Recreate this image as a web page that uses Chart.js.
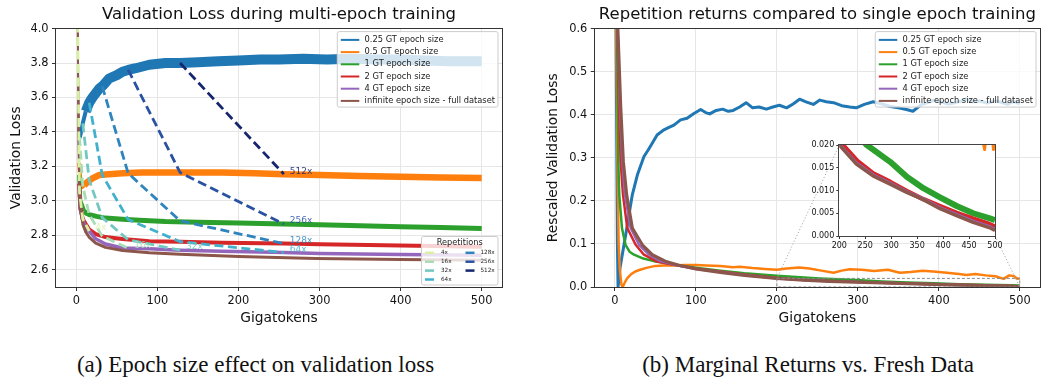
<!DOCTYPE html>
<html lang="en">
<head>
<meta charset="utf-8">
<title>Epoch size effect</title>
<script src="https://cdn.jsdelivr.net/npm/chart.js@4.4.1/dist/chart.umd.min.js"></script>
<style>
  html, body { margin: 0; padding: 0; background: #fff; }
  #page { position: relative; width: 1041px; height: 379px; overflow: hidden; }
  #page canvas { position: absolute; }
  .caption {
    position: absolute; top: 352px; transform: translateX(-50%); white-space: nowrap;
    font-family: "Liberation Serif", "Times New Roman", serif; font-size: 23px; line-height: 26px; color: #111;
  }
</style>
</head>
<body>
<div id="page">
  <canvas id="leftChart" width="520" height="329" style="left:0;top:0"></canvas>
  <canvas id="rightChart" width="530" height="329" style="left:530px;top:0"></canvas>
  <canvas id="insetChart" width="215" height="130" style="left:790px;top:128px"></canvas>
  <div class="caption" style="left:255.5px">(a) Epoch size effect on validation loss</div>
  <div class="caption" style="left:808px">(b) Marginal Returns vs. Fresh Data</div>
</div>
<script>
// ---- data ----
const xTicks = [0, 100, 200, 300, 400, 500];
const leftYTicks = [2.6, 2.8, 3.0, 3.2, 3.4, 3.6, 3.8, 4.0];
const rightYTicks = [0, 0.1, 0.2, 0.3, 0.4, 0.5, 0.6];
const insetXTicks = [200, 250, 300, 350, 400, 450, 500];
const insetYTicks = [0, 0.005, 0.01, 0.015, 0.02];

const seriesLabels = ['0.25 GT epoch size', '0.5 GT epoch size', '1 GT epoch size',
  '2 GT epoch size', '4 GT epoch size', 'infinite epoch size - full dataset'];
const seriesColors = ['#1f77b4', '#ff7f0e', '#2ca02c', '#d62728', '#9467bd', '#8c564b'];

// (a) validation loss, [gigatokens, loss]
const lossEpoch025 = [[1,5.0],[2,3.95],[2.8,3.55],[3.5,3.42],[4.3,3.37],[6,3.4],[8,3.45],[11.7,3.52],[16,3.57],[20,3.6],
  [28,3.65],[33,3.67],[40.5,3.71],[50,3.73],[57,3.75],[64,3.76],[73.5,3.77],[90,3.79],[110,3.8],[128,3.8],[150,3.805],
  [175,3.81],[200,3.815],[227,3.82],[250,3.82],[280,3.825],[309,3.82],[340,3.825],[370,3.82],[400,3.82],[430,3.815],
  [460,3.81],[500,3.81]];
const lossEpoch05 = [[1,5.0],[2,3.9],[2.8,3.45],[3.5,3.22],[5,3.12],[7,3.08],[9.7,3.09],[14,3.11],[20,3.13],[28,3.15],
  [40,3.155],[57,3.16],[80,3.165],[128,3.165],[180,3.165],[220,3.16],[256,3.155],[300,3.15],[350,3.145],[400,3.14],
  [450,3.135],[500,3.133]];
const lossEpoch1 = [[1,5.0],[2,3.9],[2.8,3.45],[3.5,3.15],[5,3.0],[6.4,2.985],[9.7,2.94],[12,2.93],[16,2.92],[25,2.91],
  [36,2.9],[57,2.893],[78,2.888],[110,2.88],[150,2.876],[200,2.872],[256,2.866],[300,2.862],[350,2.856],[400,2.85],
  [450,2.845],[500,2.84]];
const lossEpoch2 = [[1,5.0],[2,3.9],[2.8,3.4],[3.5,3.1],[5,2.96],[8,2.895],[11.7,2.865],[15.8,2.835],[24,2.807],[36,2.79],
  [57,2.778],[90,2.765],[128,2.763],[180,2.757],[256,2.752],[300,2.748],[380,2.743],[440,2.738],[500,2.733]];
const lossEpoch4 = [[1,5.0],[2,3.9],[2.8,3.4],[3.5,3.08],[5,2.95],[8.4,2.88],[11.7,2.845],[16,2.825],[24,2.78],[36,2.75],
  [57,2.726],[90,2.722],[128,2.714],[180,2.707],[256,2.7],[300,2.695],[400,2.689],[500,2.685]];
const lossFull = [[1,5.0],[2,3.9],[2.8,3.35],[3.5,3.05],[5,2.95],[6.4,2.92],[8.4,2.86],[11.7,2.82],[15.8,2.79],[24,2.755],
  [36,2.73],[57,2.712],[90,2.699],[128,2.69],[200,2.677],[296,2.666],[400,2.66],[500,2.656]];

// iso-repetition lines joining the runs
const repLabels = ['4x', '16x', '32x', '64x', '128x', '256x', '512x'];
const repColors = ['#d9f0a3', '#a8dcb5', '#72c8c0', '#41b0cc', '#2f84be', '#2a52a2', '#16266e'];
const rep4x = [[1,4.5],[2,3.9],[4,3.05],[8,2.895],[16,2.825]];
const rep16x = [[4,3.37],[8,3.085],[16,2.92],[32,2.795],[64,2.725]];
const rep32x = [[8,3.45],[16,3.12],[32,2.903],[64,2.774],[128,2.714]];
const rep64x = [[16,3.57],[32,3.15],[64,2.892],[128,2.763],[256,2.7]];
const rep128x = [[32,3.665],[64,3.16],[128,2.884],[256,2.752]];
const rep256x = [[64,3.76],[128,3.165],[256,2.866]];
const rep512x = [[128,3.8],[256,3.155]];

// (b) rescaled validation loss, [gigatokens, loss]
const rescaled025 = [[1,0.7],[2,0.4],[3,0.1],[3.8,0.0],[6.2,0.044],[9,0.075],[13.2,0.121],[17.3,0.168],[21.4,0.214],
  [27.6,0.26],[35.8,0.303],[41,0.318],[46,0.334],[52,0.353],[60.5,0.365],[66,0.37],[72.8,0.376],[81,0.388],[89,0.392],
  [97.5,0.403],[105.8,0.412],[112,0.405],[117,0.402],[125,0.41],[133,0.413],[140,0.408],[146,0.41],[154,0.418],
  [162,0.428],[170,0.416],[178,0.418],[187,0.413],[195,0.418],[203,0.422],[212,0.416],[220,0.425],[228,0.436],
  [236,0.43],[245,0.424],[253,0.434],[261,0.43],[270,0.428],[280,0.421],[290,0.418],[298,0.416],[308,0.424],
  [319,0.43],[330,0.425],[340,0.419],[350,0.416],[360,0.412],[368,0.408],[378,0.423],[386,0.428],[393,0.433],
  [402,0.43],[412,0.425],[420,0.428],[428,0.432],[434,0.437],[442,0.43],[450,0.432],[460,0.427],[468,0.432],
  [475,0.43],[485,0.424],[492,0.431],[500,0.425]];
const rescaled05 = [[1,0.7],[2,0.52],[3,0.3],[4.5,0.1],[6,0.04],[8,0.005],[9.5,0.0],[12,0.01],[15,0.02],[20,0.03],
  [25,0.036],[31,0.04],[40,0.045],[50,0.049],[60,0.05],[72,0.05],[85,0.051],[100,0.051],[113,0.05],[130,0.049],
  [146,0.046],[154,0.047],[170,0.044],[185,0.042],[200,0.04],[212,0.043],[228,0.045],[240,0.043],[255,0.038],
  [270,0.033],[280,0.038],[290,0.041],[305,0.04],[320,0.037],[337,0.04],[352,0.033],[365,0.035],[380,0.038],
  [393,0.036],[410,0.033],[425,0.03],[434,0.028],[445,0.03],[458,0.027],[470,0.025],[480,0.019],[487,0.027],
  [493,0.025],[497,0.019],[500,0.02]];
const rescaled1 = [[1,0.7],[2.5,0.6],[3.3,0.45],[4.1,0.29],[5.3,0.214],[8.6,0.137],[13,0.098],[18,0.082],[23.5,0.075],
  [35,0.066],[48,0.06],[65,0.055],[80,0.05],[100,0.045],[130,0.038],[160,0.032],[200,0.026],[253,0.02],[298,0.0163],
  [330,0.013],[362,0.0105],[394,0.0085],[426,0.0066],[458,0.005],[490,0.0039],[500,0.0035]];
const rescaled2 = [[1,0.7],[3,0.6],[5,0.42],[7,0.291],[9.9,0.214],[15.2,0.137],[25.5,0.098],[35.8,0.075],[52,0.059],
  [70,0.052],[100,0.043],[130,0.036],[160,0.029],[207,0.02],[235,0.0165],[265,0.0138],[298,0.0119],[330,0.0099],
  [362,0.0081],[394,0.0066],[426,0.0051],[458,0.0038],[490,0.0026],[500,0.002]];
const rescaled4 = [[1,0.7],[3.2,0.6],[6,0.42],[9,0.291],[12.3,0.214],[19.3,0.137],[29.6,0.098],[42,0.075],[56,0.06],
  [75,0.051],[100,0.042],[130,0.035],[160,0.028],[201,0.02],[233,0.016],[265,0.0134],[298,0.0116],[330,0.0097],
  [362,0.0081],[394,0.0062],[426,0.0047],[458,0.0032],[490,0.002],[500,0.0014]];
const rescaledFull = [[1,0.7],[3.5,0.6],[7,0.42],[10.3,0.291],[14.4,0.214],[21.4,0.137],[33.7,0.098],[46,0.075],
  [62,0.06],[80,0.05],[100,0.042],[130,0.034],[160,0.027],[200,0.02],[233,0.0158],[265,0.0132],[298,0.0114],
  [330,0.0096],[362,0.008],[394,0.006],[426,0.0045],[458,0.003],[490,0.0018],[500,0.0012]];

// ---- drawing ----
const FONT = '"DejaVu Sans", "Liberation Sans", sans-serif';
Chart.defaults.font.family = FONT;
Chart.defaults.color = '#111';

const pts = arr => arr.map(([x, y]) => ({ x, y }));

// noisy runs: thin on the first drop, wide once the noise sets in
function bandWidth(full) {
  return ctx => {
    const x = ctx.p0.parsed.x;
    if (x < 3.4) return 1.8;
    if (x < 9) return Math.min(full, 4);
    return full;
  };
}

function solidSets(series, widths, banded) {
  return series.map((d, i) => ({
    label: seriesLabels[i],
    data: pts(d),
    borderColor: seriesColors[i],
    borderWidth: widths[i],
    segment: banded ? { borderWidth: bandWidth(widths[i]) } : undefined,
    borderJoinStyle: 'round',
    pointRadius: 0,
    order: 6 - i,
    clip: 0
  }));
}

function scales(o) {
  const tick = { font: { family: FONT, size: o.tickSize }, color: '#111', padding: o.tickPad, maxRotation: 0, autoSkip: false };
  const grid = { color: '#e6e6e6', drawOnChartArea: o.grid, tickColor: '#333', tickLength: o.tickLen, lineWidth: 1 };
  const titleFont = { family: FONT, size: 13.8 };
  return {
    x: {
      type: 'linear', min: o.xMin, max: o.xMax,
      afterBuildTicks: s => { s.ticks = o.xTicks.map(v => ({ value: v })); },
      afterFit: s => { s.height = o.xHeight; },
      ticks: { ...tick, callback: v => String(v) },
      grid, border: { display: false },
      title: o.xTitle
        ? { display: true, text: o.xTitle, font: titleFont, color: '#111', padding: { top: 0, bottom: 2.7 } }
        : { display: false }
    },
    y: {
      type: 'linear', min: o.yMin, max: o.yMax,
      afterBuildTicks: s => { s.ticks = o.yTicks.map(v => ({ value: v })); },
      afterFit: s => { s.width = o.yWidth; },
      ticks: { ...tick, callback: v => v.toFixed(o.yDigits) },
      grid, border: { display: false },
      title: o.yTitle
        ? { display: true, text: o.yTitle, font: titleFont, color: '#111', padding: { top: o.yTitlePad, bottom: 0 } }
        : { display: false }
    }
  };
}

function roundRectPath(ctx, x, y, w, h, r) {
  ctx.beginPath();
  ctx.moveTo(x + r, y);
  ctx.arcTo(x + w, y, x + w, y + h, r);
  ctx.arcTo(x + w, y + h, x, y + h, r);
  ctx.arcTo(x, y + h, x, y, r);
  ctx.arcTo(x, y, x + w, y, r);
  ctx.closePath();
}

function drawFrame(chart, color) {
  const { ctx, chartArea: a } = chart;
  ctx.save();
  ctx.strokeStyle = color;
  ctx.lineWidth = 1;
  const l = Math.round(a.left) - 0.5, t = Math.round(a.top) - 0.5;
  ctx.strokeRect(l, t, Math.round(a.right) - Math.round(a.left) + 1, Math.round(a.bottom) - Math.round(a.top) + 1);
  ctx.restore();
}

function drawEndLabels(chart) {
  const { ctx, scales: { x, y } } = chart;
  const lines = [rep4x, rep16x, rep32x, rep64x, rep128x, rep256x, rep512x];
  ctx.save();
  ctx.font = `9px ${FONT}`;
  ctx.textBaseline = 'middle';
  ctx.globalAlpha = 0.85;
  lines.forEach((d, i) => {
    const [gx, gv] = d[d.length - 1];
    ctx.fillStyle = repColors[i];
    ctx.fillText(repLabels[i], x.getPixelForValue(gx) + 6, y.getPixelForValue(gv) - 3);
  });
  ctx.restore();
}

function drawLegend(chart) {
  const { ctx, chartArea: a } = chart;
  ctx.save();
  ctx.font = `8.3px ${FONT}`;
  const tw = Math.max(...seriesLabels.map(t => ctx.measureText(t).width));
  const rowH = 12.2;
  const w = 3.5 + 18.5 + 5.3 + tw + 3;
  const h = 8.3 + rowH * (seriesLabels.length - 1) + 6.2;
  const x = a.right - 4 - w, y = a.top + 3;
  roundRectPath(ctx, x, y, w, h, 2);
  ctx.fillStyle = 'rgba(255,255,255,0.8)';
  ctx.fill();
  ctx.strokeStyle = '#cccccc';
  ctx.lineWidth = 1;
  ctx.stroke();
  ctx.textBaseline = 'middle';
  seriesLabels.forEach((t, i) => {
    const ry = y + 8.3 + i * rowH;
    ctx.strokeStyle = seriesColors[i];
    ctx.lineWidth = 2;
    ctx.beginPath();
    ctx.moveTo(x + 3.5, ry);
    ctx.lineTo(x + 22, ry);
    ctx.stroke();
    ctx.fillStyle = '#222';
    ctx.fillText(t, x + 27.3, ry);
  });
  ctx.restore();
}

function drawRepLegend(chart) {
  const { ctx, chartArea: a } = chart;
  const w = 76.5, h = 48.5;
  const x = a.right - 4 - w, y = a.bottom - 2 - h;
  ctx.save();
  roundRectPath(ctx, x, y, w, h, 2);
  ctx.fillStyle = 'rgba(255,255,255,0.8)';
  ctx.fill();
  ctx.strokeStyle = '#cccccc';
  ctx.lineWidth = 1;
  ctx.stroke();
  ctx.fillStyle = '#222';
  ctx.textBaseline = 'middle';
  ctx.textAlign = 'center';
  ctx.font = `8.2px ${FONT}`;
  ctx.fillText('Repetitions', x + w / 2, y + 6.5);
  ctx.textAlign = 'left';
  ctx.font = `5.7px ${FONT}`;
  repLabels.forEach((t, i) => {
    const col = i < 4 ? 0 : 1;
    const row = i < 4 ? i : i - 4;
    const ry = y + 16.3 + row * 8.9;
    const sx = x + (col ? 44 : 3.5);
    ctx.strokeStyle = repColors[i];
    ctx.lineWidth = 2.5;
    ctx.beginPath();
    ctx.moveTo(sx, ry);
    ctx.lineTo(sx + 9, ry);
    ctx.stroke();
    ctx.fillStyle = '#222';
    ctx.fillText(t, x + (col ? 59 : 19.5), ry);
  });
  ctx.restore();
}

function drawZoomBox(chart, inset, dx, dy) {
  const { ctx, scales: { x, y } } = chart;
  const x0 = x.getPixelForValue(200), x1 = x.getPixelForValue(500);
  const y0 = y.getPixelForValue(0), y1 = y.getPixelForValue(0.02);
  const ia = inset.chartArea;
  ctx.save();
  ctx.lineWidth = 1;
  ctx.strokeStyle = '#888';
  ctx.setLineDash([3, 2]);
  ctx.strokeRect(x0, y1, x1 - x0, y0 - y1);
  ctx.strokeStyle = '#aaa';
  ctx.setLineDash([1.2, 2]);
  ctx.beginPath();
  ctx.moveTo(ia.left + dx, ia.top + dy);
  ctx.lineTo(x0, y1);
  ctx.moveTo(ia.right + dx, ia.bottom + dy);
  ctx.lineTo(x1, y0);
  ctx.stroke();
  ctx.restore();
}

function decor(opts) {
  return {
    id: 'decor',
    beforeDraw(chart) {
      if (!opts.fill) return;
      const { ctx, chartArea: a } = chart;
      ctx.save();
      ctx.fillStyle = opts.fill;
      ctx.fillRect(a.left, a.top, a.right - a.left, a.bottom - a.top);
      ctx.restore();
    },
    afterDatasetsDraw(chart) {
      if (opts.zoom) drawZoomBox(chart, opts.zoom.inset, opts.zoom.dx, opts.zoom.dy);
      drawFrame(chart, opts.frame);
      if (opts.endLabels) drawEndLabels(chart);
      if (opts.legend) drawLegend(chart);
      if (opts.repLegend) drawRepLegend(chart);
    }
  };
}

function titleOpts(text) {
  return {
    display: true, text, fullSize: false, color: '#111',
    font: { family: FONT, size: 16.5, weight: 'normal' },
    padding: { top: 4.9, bottom: 3.9 }
  };
}

const baseOptions = {
  responsive: false,
  animation: false,
  events: [],
};

// (a) left panel
const repSets = [rep4x, rep16x, rep32x, rep64x, rep128x, rep256x, rep512x].map((d, i) => ({
  label: repLabels[i],
  data: pts(d),
  borderColor: repColors[i],
  borderWidth: 2.8,
  borderDash: [9, 4.5],
  pointRadius: 0,
  order: 0,
  clip: 0
}));

new Chart(document.getElementById('leftChart'), {
  type: 'line',
  data: {
    datasets: [...repSets,
      ...solidSets([lossEpoch025, lossEpoch05, lossEpoch1, lossEpoch2, lossEpoch4, lossFull], [10, 6.5, 5, 4, 3.5, 3], true)]
  },
  options: {
    ...baseOptions,
    layout: { padding: { left: 0, right: 18, top: 0, bottom: 0 } },
    plugins: { legend: { display: false }, tooltip: { enabled: false }, title: titleOpts('Validation Loss during multi-epoch training') },
    scales: scales({
      xMin: -25, xMax: 525, xTicks, xHeight: 42, xTitle: 'Gigatokens',
      yMin: 2.5, yMax: 4.0, yTicks: leftYTicks, yWidth: 56, yDigits: 1, yTitle: 'Validation Loss', yTitlePad: 7.7,
      tickSize: 11.4, tickPad: 3.5, tickLen: 4, grid: true
    })
  },
  plugins: [decor({ frame: '#333', endLabels: true, legend: true, repLegend: true })]
});

// (b) inset, zoom on 200-500 GT
const rescaledSeries = [rescaled025, rescaled05, rescaled1, rescaled2, rescaled4, rescaledFull];
const insetChart = new Chart(document.getElementById('insetChart'), {
  type: 'line',
  data: { datasets: solidSets(rescaledSeries, [2, 3, 6, 4.5, 3.5, 3.5], false) },
  options: {
    ...baseOptions,
    layout: { padding: { left: 0, right: 10, top: 17, bottom: 2 } },
    plugins: { legend: { display: false }, tooltip: { enabled: false }, title: { display: false } },
    scales: scales({
      xMin: 200, xMax: 500, xTicks: insetXTicks, xHeight: 20,
      yMin: 0, yMax: 0.02, yTicks: insetYTicks, yWidth: 49.3, yDigits: 3,
      tickSize: 8, tickPad: 2, tickLen: 3, grid: false
    })
  },
  plugins: [decor({ frame: '#444', fill: '#ffffff' })]
});

// (b) right panel
new Chart(document.getElementById('rightChart'), {
  type: 'line',
  data: { datasets: solidSets(rescaledSeries, [3, 2.5, 2.5, 2.5, 2.5, 3.2], false) },
  options: {
    ...baseOptions,
    layout: { padding: { left: 0, right: 20, top: 0, bottom: 0 } },
    plugins: { legend: { display: false }, tooltip: { enabled: false }, title: titleOpts('Repetition returns compared to single epoch training') },
    scales: scales({
      xMin: -25, xMax: 525, xTicks, xHeight: 42, xTitle: 'Gigatokens',
      yMin: 0, yMax: 0.6, yTicks: rightYTicks, yWidth: 64.75, yDigits: 1, yTitle: 'Rescaled Validation Loss', yTitlePad: 14.7,
      tickSize: 11.4, tickPad: 3.5, tickLen: 4, grid: true
    })
  },
  plugins: [decor({ frame: '#333', legend: true, zoom: { inset: insetChart, dx: 260, dy: 128 } })]
});
</script>
</body>
</html>
